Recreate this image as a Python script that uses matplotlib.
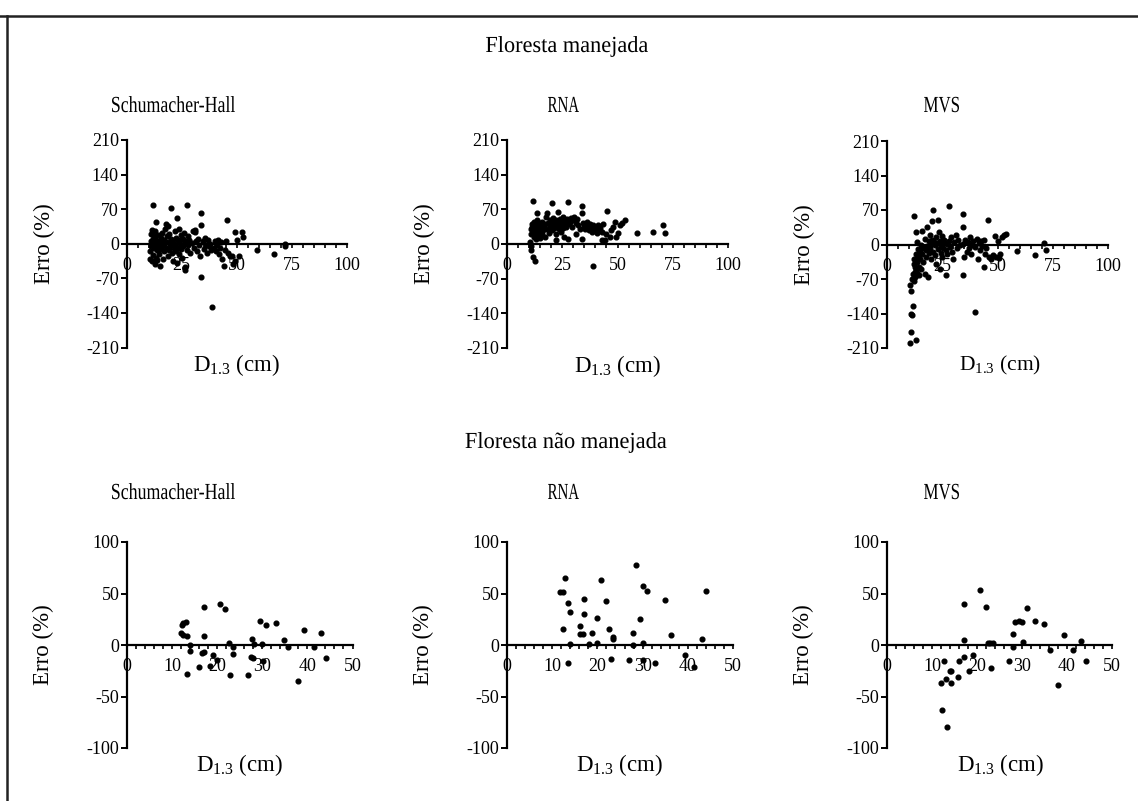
import matplotlib
matplotlib.use("Agg")
import matplotlib.pyplot as plt
from matplotlib.lines import Line2D
from matplotlib.ticker import MultipleLocator
from matplotlib.textpath import TextPath
from matplotlib.patches import PathPatch
from matplotlib.font_manager import FontProperties
from matplotlib.transforms import Affine2D

plt.rcParams['font.family'] = ['Liberation Serif', 'DejaVu Serif']
plt.rcParams['mathtext.fontset'] = 'custom'
plt.rcParams['mathtext.rm'] = 'Liberation Serif'
plt.rcParams['mathtext.it'] = 'Liberation Serif:italic'
plt.rcParams['axes.unicode_minus'] = False

# ---------------- data ----------------
row_titles = ["Floresta manejada", "Floresta não manejada"]
model_names = ["Schumacher-Hall", "RNA", "MVS"]
y_label = "Erro (%)"
x_label = r"D$_{\mathrm{1.3}}$ (cm)"

# Managed forest, Schumacher-Hall
sh_man_x = [10.5, 10.8, 11, 11, 11.2, 11.5, 11.5, 11.8, 12, 12, 12.1, 12.3, 12.5, 12.8, 13, 13, 13.2, 13.5, 13.6, 13.8,
            14, 14, 14.3, 14.5, 14.8, 15, 15.2, 15.5, 15.8, 16, 16.2, 16.5, 16.8, 17, 17.2, 17.5, 17.9, 18, 18.3, 18.6,
            18.8, 19, 19.3, 19.5, 19.8, 20, 20.2, 20.5, 20.8, 21, 21.3, 21.5, 21.8, 22, 22.3, 22.5, 22.9, 23, 23.2, 23.5,
            23.8, 24, 24.2, 24.5, 24.8, 25, 25.3, 25.5, 25.8, 26, 26.3, 26.5, 26.7, 27, 27.3, 27.5, 27.8, 28, 28.5, 29,
            29.5, 30, 30.5, 31, 31.2, 31.5, 32, 32.5, 33, 33.5, 34, 34, 34, 34.5, 35, 35.5, 36, 36.5, 37, 37.5,
            38, 38.5, 39, 39.5, 40, 40.5, 41, 41.5, 42, 42.5, 43, 43.5, 44, 44.5, 45, 45.8, 46, 47, 48, 48.5,
            49, 49, 50, 51, 52.4, 53, 59, 67, 72, 72]
sh_man_y = [-30, -15, 5, 20, -5, 28, -35, 10, -22, 0, 79, -8, 15, -40, -3, 25, -28, 8, 44, -12,
            2, -32, 18, -5, -20, 5, -45, 12, -10, -2, 22, -30, 8, -15, 0, 30, 39, -8, 15, 36,
            -25, 3, -12, 20, -5, 72, 10, -18, 0, -35, 5, -8, 25, -2, 12, -15, 52, -38, 3, -6,
            30, -20, 8, -10, 18, -2, -28, 10, -5, 22, 0, -47, -54, 5, 79, -12, 15, -3, 8, -18,
            2, 25, -8, 27, 23, 5, -15, 10, -2, -25, 62, 38, -67, 5, -10, 12, -3, -18, 8, -5,
            0, -12, -129, -8, 5, -15, -3, 8, -20, -8, 3, -30, -45, -12, 5, 48, -18, -25, -24, -40,
            24, -34, 8, -24, 23, 13, -13, -20, 0, -5]

# Managed forest, RNA
rna_man_x = [10.5, 10.8, 11, 11, 11, 11.2, 11.5, 11.6, 11.6, 11.8, 12, 12, 12.3, 12.6, 12.8, 13, 13, 13.2, 13.5, 13.5,
             13.8, 14, 14.3, 14.5, 15, 15.2, 15.5, 15.8, 16, 16.3, 16.5, 17, 17.3, 17.5, 18, 18.3, 18.5, 19, 19.3, 19.5,
             20, 20.2, 20.5, 20.8, 21, 21.3, 21.5, 22, 22, 22.3, 22.5, 23, 23.3, 23.5, 23.8, 24, 24.3, 24.5, 25, 25.3,
             25.5, 25.8, 26, 26.3, 26.5, 27, 27.5, 27.5, 28, 28.5, 29, 29.5, 30, 30.5, 31, 31, 31.5, 32, 33, 33.8,
             33.8, 33.8, 34.5, 35, 35.5, 36, 36.5, 37, 37.5, 38, 38.5, 39, 39, 39.5, 40, 40.5, 41, 41.5, 42, 43,
             43, 43.5, 44.5, 45, 45.4, 46.6, 47, 48, 49, 49.5, 50, 51, 52, 53.4, 58.6, 66, 70.7, 71.7]
rna_man_y = [5, 30, -5, -13, 20, 40, 35, 87, -27, 25, 45, 15, 32, -35, 22, 38, 10, 28, 62, 48,
             18, 35, 25, 42, 12, 30, 38, 20, 45, 28, 35, 15, 40, 55, 30, 62, 42, 22, 35, 48,
             38, 83, 28, 45, 52, 33, 40, 8, 20, 48, 35, 42, 65, 30, 50, 38, 25, 45, 40, 55,
             32, 48, 15, 42, 35, 50, 85, 10, 40, 45, 52, 35, 48, 55, 20, 42, 50, 38, 30, 77,
             62, 10, 42, 35, 30, 45, 38, 28, 40, 33, 25, -45, 38, 30, 35, 22, 38, 30, 33, 8,
             25, 40, 9, 20, 67, 15, 28, 35, 45, 15, 22, 38, 42, 49, 21.5, 25, 38, 22]

# Managed forest, MVS
mvs_man_x = [10.4, 10.6, 10.7, 10.9, 11, 11.5, 11.9, 12, 11.5, 11.8, 12, 12.2, 12.3, 12.5, 12.7, 12.8, 13, 13.1, 13.2, 13.3,
             13.5, 13.6, 13.8, 14, 14, 14.3, 14.5, 14.8, 15, 15.2, 15.5, 15.8, 16, 16.2, 16.5, 16.8, 17, 17.2, 17.5, 17.8,
             18, 18.3, 18.5, 18.8, 19, 19.3, 19.5, 19.8, 20, 20.2, 20.5, 20.7, 21, 21.3, 21.5, 21.8, 22, 22.3, 22.5, 23,
             23.2, 23.5, 23.8, 24, 24.3, 24.5, 24.8, 25, 25.3, 25.5, 26, 26.5, 26.7, 27, 27.3, 27.9, 28, 28.5, 29, 29.5,
             30, 30.5, 31, 31.5, 32, 33, 34.2, 34.2, 34.2, 34.5, 35, 35.5, 36, 36.5, 37, 37.5, 38, 38.5, 39, 39.7,
             40, 40.5, 41, 41.5, 42, 42.5, 43, 43.7, 44, 44.5, 45, 45.6, 46, 47, 48, 49, 49.5, 50, 50.5, 51,
             52, 53, 54, 59, 67, 71, 72]
mvs_man_y = [-83, -200, -94, -177, -141, -144, -124, 57, -70, -60, -40, -75, -30, -55, -45, -65, -20, -194, -50, 25,
             -35, 5, -58, -10, -25, -45, -62, -15, -30, 0, -50, -20, 28, -8, -35, -5, -60, 12, -25, -12,
             35, -3, -65, 8, -18, 20, -8, 2, -30, 48, 10, 69, -15, 5, -22, -2, 15, -40, 3, 50,
             -10, 25, -50, 8, -18, -3, 18, -25, 5, -8, 10, -12, -62, 2, -20, 78, 8, -5, 15, -15,
             -30, 5, 20, -8, 10, -2, 62, 36, -61, 2, -25, 10, -15, 5, -8, 15, -20, 0, 8, -136,
             -5, 12, -30, 3, -12, 8, -3, -45, 10, -20, -8, 49, -25, -30, -22, 18, -25, 8, -28, -20,
             15, 20, 22, -13, -21, 4, -11]

# Unmanaged forest, Schumacher-Hall
sh_nman_x = [12.0, 12.5, 12.5, 13.0, 12.2, 13.3, 14.0, 14.0, 13.3, 17.0, 17.0, 16.6, 17.0, 16.0, 18.4, 19.0, 19.9, 20.6,
             21.8, 22.6, 22.9, 23.5, 23.5, 26.9, 27.7, 27.9, 27.5, 28.2, 29.5, 29.9, 30.2, 30.8, 33.0, 34.9, 35.8, 38.0,
             39.2, 41.4, 43.1, 44.1]
sh_nman_y = [11.4, 10, 21.4, 22, 19.5, 9, 0.3, -5.5, -28, 37, 9, -8, -7, -21, -20, -10, -15, 40,
             35, 1.6, -29, -1.6, -8.8, -29, 5.8, -12.7, -12, 1, 23, 1, -16, 19, 21.4, 4.5, -2, -35,
             14.3, -1.6, 11.4, -12.7]

# Unmanaged forest, RNA
rna_nman_x = [11.8, 12.3, 12.9, 12.4, 13.4, 14.0, 14.0, 13.4, 16.2, 16.9, 16.2, 17.1, 17.1, 18.1, 18.9, 19.9, 20.0, 20.7,
              22.0, 22.6, 23.0, 23.5, 23.5, 26.9, 27.8, 27.8, 28.5, 29.4, 30.0, 30.1, 30.1, 31.0, 32.8, 34.9, 36.2, 39.3,
              41.3, 43.2, 44.1]
rna_nman_y = [51, 51, 65.5, 15.5, 41, 31.6, 1, -17.4, 10.6, 10.6, 18.7, 45, 30, 1, 12, 26, 1.6, 63,
              43, 15.5, -14, 8, 6, -14.5, 12, 0.3, 78, 25, 57, 1.6, -15, 52, -17, 44, 10, -10,
              -21.6, 5.5, 52]

# Unmanaged forest, MVS
mvs_nman_x = [12.3, 13.4, 12.0, 12.6, 13.1, 13.9, 14.3, 14.2, 15.8, 16.0, 17.0, 17.0, 17.0, 18.2, 19.0, 20.7, 22.0, 22.4,
              22.9, 23.5, 23.1, 27.0, 27.9, 27.9, 28.5, 29.4, 29.9, 30.3, 31.0, 32.9, 34.9, 36.2, 38.1, 39.4, 41.4, 43.2,
              44.3]
mvs_nman_y = [-63.5, -80, -37, -16, -33, -25, -25, -37, -31, -16, 40, 5, -12, -25.5, -9.4, 53, 37, 2,
              2, 2, -22, -16, 10.6, -2.3, 22.6, 23.5, 22.6, 3, 36, 23.5, 20, -4.5, -39, 10, -4.5, 4,
              -16]

top_series = [(sh_man_x, sh_man_y), (rna_man_x, rna_man_y), (mvs_man_x, mvs_man_y)]
bot_series = [(sh_nman_x, sh_nman_y), (rna_nman_x, rna_nman_y), (mvs_nman_x, mvs_nman_y)]

top_yticks = [-210, -140, -70, 0, 70, 140, 210]
top_xticks = [0, 25, 50, 75, 100]
bot_yticks = [-100, -50, 0, 50, 100]
bot_xticks = [0, 10, 20, 30, 40, 50]

# ---------------- layout ----------------
W, H = 1138, 801
fig = plt.figure(figsize=(W / 100, H / 100), dpi=100)
fig.patch.set_facecolor('white')

def px_axes(l, r, t, b):
    return fig.add_axes([l / W, 1 - b / H, (r - l) / W, (b - t) / H])

top_boxes = [(126.5, 347, 140, 347.5), (507, 728, 140, 348), (887, 1108, 141, 348)]
bot_boxes = [(127, 352.5, 542, 748), (507, 733, 542, 748), (887, 1112, 542, 748)]
xlab_x_top = [0.50, 0.50, 0.51]
xlab_x_bot = [0.50, 0.50, 0.505]

def style(ax, xticks, yticks, minor):
    ax.set_xlim(xticks[0], xticks[-1])
    ax.set_ylim(yticks[0], yticks[-1])
    ax.set_xticks(xticks)
    ax.set_yticks(yticks)
    ax.xaxis.set_minor_locator(MultipleLocator(minor))
    for s in ['top', 'right']:
        ax.spines[s].set_visible(False)
    ax.spines['bottom'].set_position(('data', 0))
    for s in ['bottom', 'left']:
        ax.spines[s].set_linewidth(1.6)
        ax.spines[s].set_color('black')
    ax.tick_params(axis='y', direction='out', length=4, width=1.4, pad=1.5, labelsize=13)
    ax.tick_params(axis='x', which='both', direction='out', length=3, width=1.2, pad=6.5, labelsize=13)
    ax.set_facecolor('none')

for i, ((xs, ys), box) in enumerate(zip(top_series, top_boxes)):
    ax = px_axes(*box)
    style(ax, top_xticks, top_yticks, 5)
    ax.plot(xs, ys, 'o', color='black', markersize=3.4, clip_on=False, zorder=3)
    ax.set_ylabel(y_label, fontsize=16.5)
    ax.yaxis.set_label_coords(-0.324, 0.5)
    ax.set_xlabel(x_label, fontsize=16.5 if i < 2 else 15.5)
    ax.xaxis.set_label_coords(xlab_x_top[i], -0.085)
    ax.xaxis.label.set_va('center')

for i, ((xs, ys), box) in enumerate(zip(bot_series, bot_boxes)):
    ax = px_axes(*box)
    style(ax, bot_xticks, bot_yticks, 2)
    ax.plot(xs, ys, 'o', color='black', markersize=3.4, clip_on=False, zorder=3)
    ax.set_ylabel(y_label, fontsize=16.5)
    ax.yaxis.set_label_coords(-0.324, 0.5)
    ax.set_xlabel(x_label, fontsize=16.5)
    ax.xaxis.set_label_coords(xlab_x_bot[i], -0.082)
    ax.xaxis.label.set_va('center')

# condensed title text (the reference uses a narrow serif face)
title_prop = FontProperties(family='Liberation Serif')

def condensed_text(s, cx, baseline, size_px, width_px):
    tp = TextPath((0, 0), s, size=size_px, prop=title_prop)
    ext = tp.get_extents()
    sx = width_px / ext.width
    tr = Affine2D().translate(-ext.x0 - ext.width / 2, 0).scale(sx, 1).translate(cx, H - baseline)
    patch = PathPatch(tp, facecolor='black', edgecolor='none', lw=0, transform=tr)
    fig.add_artist(patch)

condensed_text(row_titles[0], 567, 52, 23, 162)
condensed_text(row_titles[1], 566, 448, 23, 201)
title_x = [173.5, 563.5, 941.5]
title_w = [123, 31, 35]
for name, x, w in zip(model_names, title_x, title_w):
    condensed_text(name, x, 112, 23, w)
    condensed_text(name, x, 499, 23, w)

# frame lines (top and left)
fig.add_artist(Line2D([0, 1], [1 - 16 / H, 1 - 16 / H], transform=fig.transFigure, color='#222222', lw=1.8))
fig.add_artist(Line2D([7 / W, 7 / W], [0, 1 - 16 / H], transform=fig.transFigure, color='#222222', lw=1.8))

fig.savefig('out.png', dpi=100, facecolor='white')
